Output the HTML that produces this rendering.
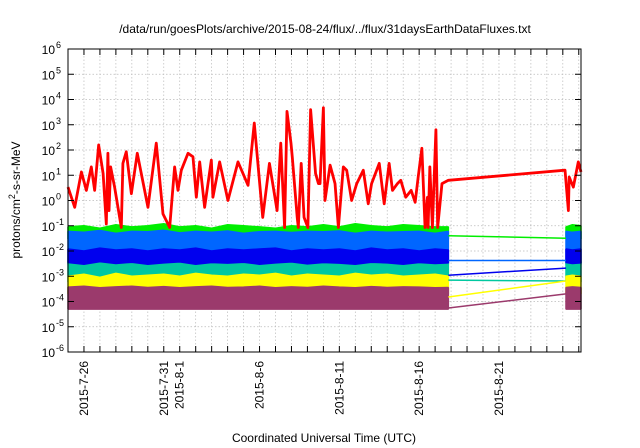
<!DOCTYPE html>
<html><head><meta charset="utf-8"><style>
html,body{margin:0;padding:0;background:#fff;}
svg{display:block;font-family:"Liberation Sans",sans-serif;}
</style></head><body>
<svg id="chart" width="640" height="448" viewBox="0 0 640 448" xmlns="http://www.w3.org/2000/svg">
<text x="325" y="33" font-size="12" text-anchor="middle">/data/run/goesPlots/archive/2015-08-24/flux/../flux/31daysEarthDataFluxes.txt</text>
<text transform="translate(20,200) rotate(-90)" font-size="12" text-anchor="middle">protons/cm<tspan dy="-5" font-size="9">2</tspan><tspan dy="5">-s-sr-MeV</tspan></text>
<text x="324" y="442" font-size="12" text-anchor="middle">Coordinated Universal Time (UTC)</text>
<g id="grid"></g><g id="marks"></g><g id="axes"></g>
</svg>
<script>
const xTickDays=[1,6,7,12,17,22,27];
const xTickLabels=["2015-7-26","2015-7-31","2015-8-1","2015-8-6","2015-8-11","2015-8-16","2015-8-21"];
const yTickExps=[-6,-5,-4,-3,-2,-1,0,1,2,3,4,5,6];
// red series: day offset from 2015-07-25 and log10 flux
const redDays=[0,0.42,0.84,1.15,1.46,1.67,1.92,2.2,2.4,2.5,2.57,2.67,2.92,3.34,3.44,3.65,3.97,4.34,5.01,5.53,5.95,6.37,6.68,6.89,7.1,7.52,7.83,8.04,8.25,8.56,8.98,9.08,9.5,10.02,10.65,11.28,11.67,12.2,12.62,13.1,13.33,13.57,13.72,13.97,14.05,14.36,14.43,14.61,14.79,15.03,15.2,15.51,15.69,15.79,16,16.1,16.42,16.73,16.94,17.25,17.46,17.77,18.09,18.5,18.81,19.02,19.5,19.81,20.12,20.33,20.64,20.85,21.16,21.5,21.75,21.94,22.17,22.37,22.52,22.56,22.67,22.83,23.05,23.16,23.43,23.83,31.14,31.35,31.4,31.66,31.97,32.14];
const redLog=[0.53,-0.27,1.13,0.4,1.33,0.4,2.2,1.07,-0.93,1.87,-0.4,1.33,0.53,-1.07,1.47,1.93,0.27,1.87,-0.27,2.27,-0.53,-1.07,1.33,0.4,1.2,1.87,1.73,0.13,1.53,-0.27,1.6,0.13,1.53,0,1.53,0.6,3.07,-0.67,1.47,-0.4,2.27,-1.07,3.53,2.27,1.73,-0.67,-1.07,1.47,-0.67,-1.07,3.6,1.07,0.67,0.67,3.67,0,1.4,0.67,-1.07,1.33,1.2,0,0.67,1.2,-0.13,0.67,1.47,-0.13,1.47,0.4,0.67,0.8,0.13,0.4,-0.07,0.93,2.07,-1.07,0.13,-1.07,1.33,-1.07,2.8,-1.07,0.67,0.8,1.2,-0.4,0.93,0.53,1.53,1.13];
const bandDays=[0,1,2,3,4,5,6,7,8,9,10,11,12,13,14,15,16,17,18,19,20,21,22,23,23.83];
const bandDays2=[31.2,31.6,32.14];
const greenHi=[0.09,0.1,0.08,0.11,0.09,0.1,0.12,0.09,0.1,0.08,0.11,0.1,0.09,0.08,0.1,0.09,0.11,0.09,0.12,0.1,0.09,0.11,0.1,0.09,0.09];
const greenHi2=[0.09,0.11,0.1];
const lblueHi=[0.06,0.055,0.065,0.05,0.06,0.058,0.066,0.052,0.06,0.055,0.062,0.05,0.058,0.06,0.054,0.06,0.058,0.062,0.05,0.06,0.055,0.058,0.06,0.05,0.06];
const lblueHi2=[0.06,0.055,0.06];
const dblueHi=[0.012,0.01,0.013,0.011,0.012,0.01,0.012,0.011,0.013,0.01,0.012,0.011,0.012,0.013,0.01,0.012,0.011,0.012,0.01,0.013,0.011,0.012,0.01,0.012,0.011];
const dblueHi2=[0.012,0.011,0.012];
const dblueLo=[0.0035,0.003,0.0038,0.0032,0.0036,0.003,0.0034,0.0037,0.003,0.0035,0.0033,0.0036,0.003,0.0034,0.0037,0.0031,0.0035,0.0033,0.003,0.0036,0.0034,0.003,0.0035,0.0032,0.0034];
const dblueLo2=[0.0035,0.0032,0.0034];
const tealHi=[0.0038,0.0035,0.004,0.0036,0.0038,0.0034,0.0039,0.0037,0.0035,0.004,0.0036,0.0038,0.0035,0.0039,0.0037,0.0036,0.004,0.0035,0.0038,0.0036,0.0039,0.0035,0.0037,0.0038,0.0036];
const tealHi2=[0.0038,0.0036,0.0038];
const yellowHi=[0.001,0.0012,0.0009,0.0013,0.001,0.0011,0.0012,0.001,0.0013,0.0011,0.001,0.0012,0.0011,0.0013,0.001,0.0012,0.0011,0.001,0.0013,0.0011,0.0012,0.001,0.0011,0.0012,0.001];
const yellowHi2=[0.001,0.0011,0.001];
const purpleHi=[0.00037,0.0004,0.00035,0.00038,0.0004,0.00036,0.00039,0.00035,0.00038,0.0004,0.00036,0.00037,0.0004,0.00035,0.00038,0.00036,0.0004,0.00037,0.00035,0.00039,0.00036,0.00038,0.00037,0.00035,0.00036];
const purpleHi2=[0.00036,0.00038,0.00036];
const bandFloor=[0.03,0.003,null,0.0006,0.0002,0.00005];
const gapStartVals=[0.04,0.0042,0.0011,0.0007,0.00015,0.000055];
const gapEndVals=[0.032,0.0042,0.0021,0.00065,0.00065,0.0002];

const L=68,R=581,T=49,B=352,D0=0,D1=32.14;
const X=d=>L+(d-D0)/(D1-D0)*(R-L);
const Y=v=>T+(6-Math.log10(v))/12*(B-T);
const YL=l=>T+(6-l)/12*(B-T);
const NS="http://www.w3.org/2000/svg";
function mk(tag,attrs,parent){const e=document.createElementNS(NS,tag);for(const k in attrs)e.setAttribute(k,attrs[k]);parent.appendChild(e);return e;}
const grid=document.getElementById('grid'),marks=document.getElementById('marks'),axes=document.getElementById('axes');
for(let d=1;d<D1;d++){const g=mk('line',{x1:X(d),x2:X(d),y1:T,y2:B,stroke:'#bbb','stroke-width':0.7,'stroke-dasharray':'1.5,2'},grid);

}
yTickExps.forEach(e=>{if(e>-6&&e<6){const g=mk('line',{x1:L,x2:R,y1:YL(e),y2:YL(e),stroke:'#bbb','stroke-width':0.7,'stroke-dasharray':'1.5,2'},grid);

}});
const colors=['#00ee00','#0066ff',null,'#00c8a0','#ffff00','#9b3a6c'];
const his=[[greenHi,greenHi2],[lblueHi,lblueHi2],null,[tealHi,tealHi2],[yellowHi,yellowHi2],[purpleHi,purpleHi2]];
function band(days,hi,lo,color,name){let p='';days.forEach((d,i)=>{p+=(i?'L':'M')+X(d)+','+Y(hi[i]);});
for(let i=days.length-1;i>=0;i--)p+='L'+X(days[i])+','+Y(Array.isArray(lo)?lo[i]:lo);
const e=mk('path',{d:p+'Z',fill:color,stroke:color,'stroke-width':1.5,'stroke-linejoin':'bevel'},marks);

}
const names=['green-channel','light-blue-channel','dark-blue-channel','teal-channel','yellow-channel','purple-channel'];
function gapLine(i,color){const e=mk('line',{x1:X(23.83),y1:Y(gapStartVals[i]),x2:X(31.2),y2:Y(gapEndVals[i]),stroke:color,'stroke-width':1.5},marks);

}
[0,1,3].forEach(i=>{band(bandDays,his[i][0],bandFloor[i],colors[i],names[i]+'-band');band(bandDays2,his[i][1],bandFloor[i],colors[i],names[i]+'-band-2');});
band(bandDays,dblueHi,dblueLo,'#0000ee','dark-blue-channel-band');band(bandDays2,dblueHi2,dblueLo2,'#0000ee','dark-blue-channel-band-2');
[4,5].forEach(i=>{band(bandDays,his[i][0],bandFloor[i],colors[i],names[i]+'-band');band(bandDays2,his[i][1],bandFloor[i],colors[i],names[i]+'-band-2');});
[0,1,2,3,4,5].forEach(i=>gapLine(i,i===2?'#0000ee':colors[i]));
let rp='';redDays.forEach((d,i)=>{rp+=(i?'L':'M')+X(d)+','+YL(redLog[i]);});
const red=mk('path',{d:rp,fill:'none',stroke:'#ff0000','stroke-width':2.8,'stroke-linejoin':'round'},marks);


const frame=mk('rect',{x:L,y:T,width:R-L,height:B-T,fill:'none',stroke:'#000','stroke-width':1},axes);


for(let d=1;d<D1;d++){mk('line',{x1:X(d),x2:X(d),y1:B,y2:B-6,stroke:'#000'},axes);mk('line',{x1:X(d),x2:X(d),y1:T,y2:T+6,stroke:'#000'},axes);}
yTickExps.forEach(e=>{const y=YL(e);mk('line',{x1:L,x2:L+6,y1:y,y2:y,stroke:'#000'},axes);mk('line',{x1:R,x2:R-6,y1:y,y2:y,stroke:'#000'},axes);
const t=mk('text',{x:55,y:y+5,'font-size':12,'text-anchor':'end'},axes);t.textContent='10';


const s=mk('text',{x:56,y:y-1,'font-size':9,'text-anchor':'start'},axes);s.textContent=String(e);

});
xTickDays.forEach((d,i)=>{const t=mk('text',{transform:'translate('+(X(d)+4)+',361) rotate(-90)','font-size':12,'text-anchor':'end'},axes);t.textContent=xTickLabels[i];

});
</script>
</body></html>
